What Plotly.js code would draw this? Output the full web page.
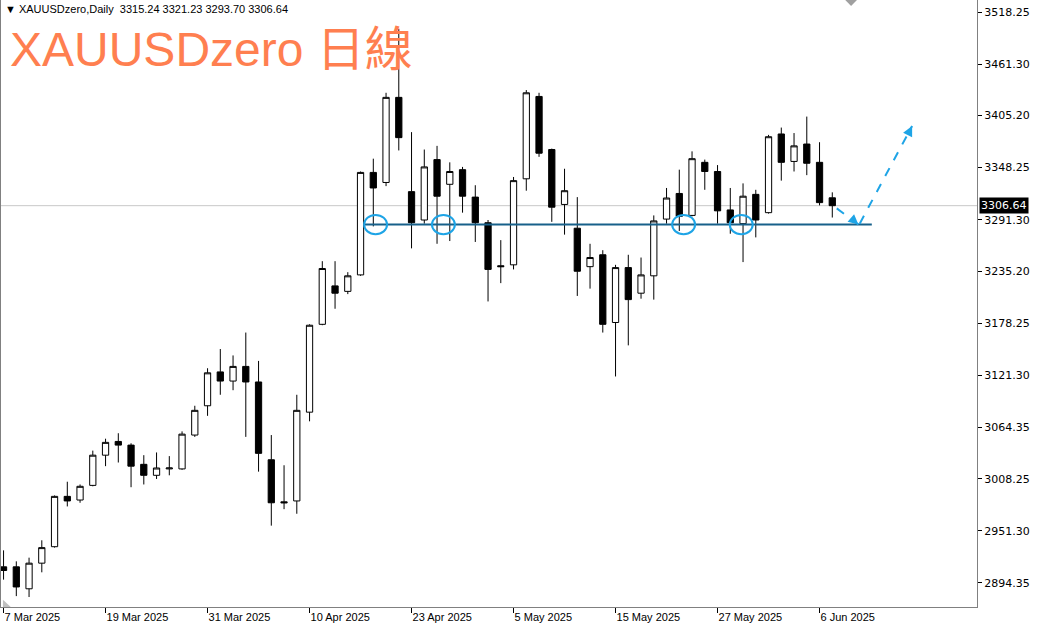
<!DOCTYPE html>
<html>
<head>
<meta charset="utf-8">
<script src="https://cdn.plot.ly/plotly-3.0.1.min.js"></script>
<style>html,body{margin:0;padding:0;background:#fff;}#chart{width:1037px;height:625px;}</style>
</head>
<body>
<div id="chart"></div>
<script>
const symbol = 'XAUUSDzero';
const period = 'Daily';
const titleText = 'XAUUSDzero 日線';
const dates = [
 '2025-03-07','2025-03-10','2025-03-11','2025-03-12','2025-03-13','2025-03-14','2025-03-17','2025-03-18','2025-03-19','2025-03-20',
 '2025-03-21','2025-03-24','2025-03-25','2025-03-26','2025-03-27','2025-03-28','2025-03-31','2025-04-01','2025-04-02','2025-04-03',
 '2025-04-04','2025-04-07','2025-04-08','2025-04-09','2025-04-10','2025-04-11','2025-04-14','2025-04-15','2025-04-16','2025-04-17',
 '2025-04-21','2025-04-22','2025-04-23','2025-04-24','2025-04-25','2025-04-28','2025-04-29','2025-04-30','2025-05-01','2025-05-02',
 '2025-05-05','2025-05-06','2025-05-07','2025-05-08','2025-05-09','2025-05-12','2025-05-13','2025-05-14','2025-05-15','2025-05-16',
 '2025-05-19','2025-05-20','2025-05-21','2025-05-22','2025-05-23','2025-05-26','2025-05-27','2025-05-28','2025-05-29','2025-05-30',
 '2025-06-02','2025-06-03','2025-06-04','2025-06-05','2025-06-06','2025-06-09'];
const open = [2912,2912,2888,2916,2934,2989,2985,3001,3034,3049,
 3045,3024,3012,3019,3019,3056,3088,3125,3115,3131,
 3114,3029,2983,2984,3081,3177,3219,3213,3231,3343,
 3332,3425,3322,3291,3357,3330,3346,3316,3288,3241,
 3242,3336,3426,3368,3308,3282,3240,3253,3179,3239,
 3211,3230,3292,3320,3296,3354,3344,3302,3287,3319,
 3299,3385,3355,3374,3354,3315.24];
const high = [2930,2918,2922,2941,2990,3005,3002,3039,3052,3058,
 3047,3034,3037,3033,3060,3088,3129,3150,3143,3168,
 3137,3056,3023,3100,3177,3246,3246,3234,3344,3358,
 3430,3500,3387,3368,3372,3354,3349,3329,3291,3269,
 3338,3433,3430,3369,3347,3316,3265,3258,3242,3253,
 3250,3296,3326,3346,3366,3357,3351,3326,3331,3324,
 3384,3392,3386,3404,3376,3321.23];
const low = [2898,2880,2879,2906,2933,2978,2982,3000,3022,3026,
 2999,3002,3008,3012,3018,3054,3077,3100,3105,3054,
 3016,2957,2975,2970,3071,3176,3194,3210,3230,3284,
 3328,3367,3260,3287,3265,3268,3299,3267,3202,3222,
 3237,3323,3360,3289,3275,3208,3216,3168,3120,3154,
 3205,3204,3287,3279,3295,3324,3287,3276,3245,3272,
 3298,3334,3344,3340,3307,3293.70];
const close = [2908,2890,2916,2933,2989,2984,3000,3034,3048,3045,
 3022,3012,3020,3020,3057,3083,3124,3115,3131,3114,
 3036,2982,2982,3083,3176,3238,3211,3230,3343,3326,
 3425,3381,3288,3349,3317,3344,3317,3288,3237,3240,
 3334,3430,3364,3305,3323,3235,3250,3177,3239,3204,
 3231,3290,3315,3295,3358,3344,3301,3288,3317,3291,
 3382,3354,3372,3353,3310,3306.64];
const tickDates = ['2025-03-07','2025-03-19','2025-03-31','2025-04-10','2025-04-23','2025-05-05','2025-05-15','2025-05-27','2025-06-06'];
const tickText = ['7 Mar 2025','19 Mar 2025','31 Mar 2025','10 Apr 2025','23 Apr 2025','5 May 2025','15 May 2025','27 May 2025','6 Jun 2025'];
const priceTicks = [3518.25,3461.30,3405.20,3348.25,3291.30,3235.20,3178.25,3121.30,3064.35,3008.25,2951.30,2894.35];
const supportLevel = 3286.0;
const touchDates = ['2025-04-17','2025-04-25','2025-05-22','2025-05-28'];
const touchOffsets = [0.18, 0.5, 0.34, 0.86];

const xIdx = dates.map((d, i) => i);
const last = dates.length - 1;
const lastClose = close[last];

const trace = {
  type: 'candlestick', x: xIdx, open: open, high: high, low: low, close: close,
  increasing: {line: {color: '#000', width: 1}, fillcolor: '#fff'},
  decreasing: {line: {color: '#000', width: 1}, fillcolor: '#000'},
  whiskerwidth: 0, hoverinfo: 'skip', showlegend: false
};

const blue = '#1ea4e6';
const shapes = [];
shapes.push({type: 'line', xref: 'paper', x0: 0, x1: 1, yref: 'y', y0: lastClose, y1: lastClose, line: {color: '#c8c8c8', width: 1}, layer: 'below'});
shapes.push({type: 'line', xref: 'x', yref: 'y', x0: 28.26, x1: 68.1, y0: supportLevel, y1: supportLevel, line: {color: '#17608a', width: 2}});
touchDates.forEach((d, k) => {
  const c = dates.indexOf(d) + touchOffsets[k];
  shapes.push({type: 'circle', xref: 'x', yref: 'y', x0: c - 0.9, x1: c + 0.9, y0: supportLevel - 10.5, y1: supportLevel + 10.5, line: {color: blue, width: 2}});
});
const p0 = {x: last + 0.35, y: 3303.7};
const p1 = {x: last + 2.05, y: supportLevel};
const p2 = {x: last + 6.26, y: 3393.7};
shapes.push({type: 'line', xref: 'x', yref: 'y', x0: p0.x, y0: p0.y, x1: p1.x, y1: p1.y, line: {color: blue, width: 2, dash: 'dash'}});
shapes.push({type: 'line', xref: 'x', yref: 'y', x0: p1.x + 0.1, y0: p1.y + 1, x1: p2.x, y1: p2.y, line: {color: blue, width: 2, dash: 'dash'}});
shapes.push({type: 'path', xref: 'paper', yref: 'paper', path: 'M 0.865 1 L 0.877 1 L 0.871 0.99 Z', fillcolor: '#a0a0a0', line: {width: 0}});
shapes.push({type: 'path', xref: 'paper', yref: 'paper', path: 'M 0.002 0.012 L 0.002 0 L 0.01 0 Z', fillcolor: '#c0c0c0', line: {width: 0}});

const annotations = [
  {xref: 'paper', yref: 'paper', x: 0, y: 1, xanchor: 'left', yanchor: 'top', xshift: 2, yshift: -1, showarrow: false,
   text: '▼ ' + symbol + ',' + period + '  ' + [open[last], high[last], low[last], close[last]].map(v => v.toFixed(2)).join(' '),
   font: {family: 'Liberation Sans, DejaVu Sans', size: 11, color: '#000'}},
  {xref: 'paper', yref: 'paper', x: 0, y: 1, xanchor: 'left', yanchor: 'top', xshift: 7, yshift: -21, showarrow: false,
   text: titleText, font: {family: 'Liberation Sans, Noto Sans CJK TC', size: 48, color: '#ff7f50'}},
  {xref: 'paper', yref: 'y', x: 1, y: lastClose, xanchor: 'left', yanchor: 'middle', xshift: 2, showarrow: false,
   text: lastClose.toFixed(2), bgcolor: '#000', borderpad: 1,
   font: {family: 'DejaVu Sans', size: 11, color: '#fff'}},
  {xref: 'x', yref: 'y', x: p1.x, y: p1.y, ax: -7, ay: -6, text: '', showarrow: true,
   arrowhead: 2, arrowsize: 1, arrowwidth: 2, arrowcolor: blue, standoff: 0},
  {xref: 'x', yref: 'y', x: p2.x, y: p2.y, ax: -4, ay: 8, text: '', showarrow: true,
   arrowhead: 2, arrowsize: 1, arrowwidth: 2, arrowcolor: blue, standoff: 0}
];

const layout = {
  width: 1037, height: 625,
  margin: {l: 1, r: 60, t: 0, b: 18, pad: 0},
  paper_bgcolor: '#fff', plot_bgcolor: '#fff', showlegend: false,
  xaxis: {type: 'linear', range: [-0.2, 76.35], showgrid: false, zeroline: false,
    showline: true, linecolor: '#808080', linewidth: 1,
    ticks: 'outside', ticklen: 5, tickcolor: '#000',
    tickvals: tickDates.map(d => dates.indexOf(d)), ticktext: tickText,
    ticklabelposition: 'outside right',
    tickfont: {family: 'Liberation Sans, DejaVu Sans', size: 11, color: '#000'},
    rangeslider: {visible: false}, fixedrange: true},
  yaxis: {side: 'right', range: [2868.1, 3531.4], showgrid: false, zeroline: false,
    showline: true, mirror: true, linecolor: '#808080', linewidth: 1,
    ticks: 'outside', ticklen: 4, tickcolor: '#000',
    tickvals: priceTicks, ticktext: priceTicks.map(v => v.toFixed(2)),
    tickfont: {family: 'DejaVu Sans', size: 11, color: '#000'}, fixedrange: true},
  shapes: shapes, annotations: annotations
};

Plotly.newPlot('chart', [trace], layout, {displayModeBar: false, staticPlot: true});
</script>
</body>
</html>
